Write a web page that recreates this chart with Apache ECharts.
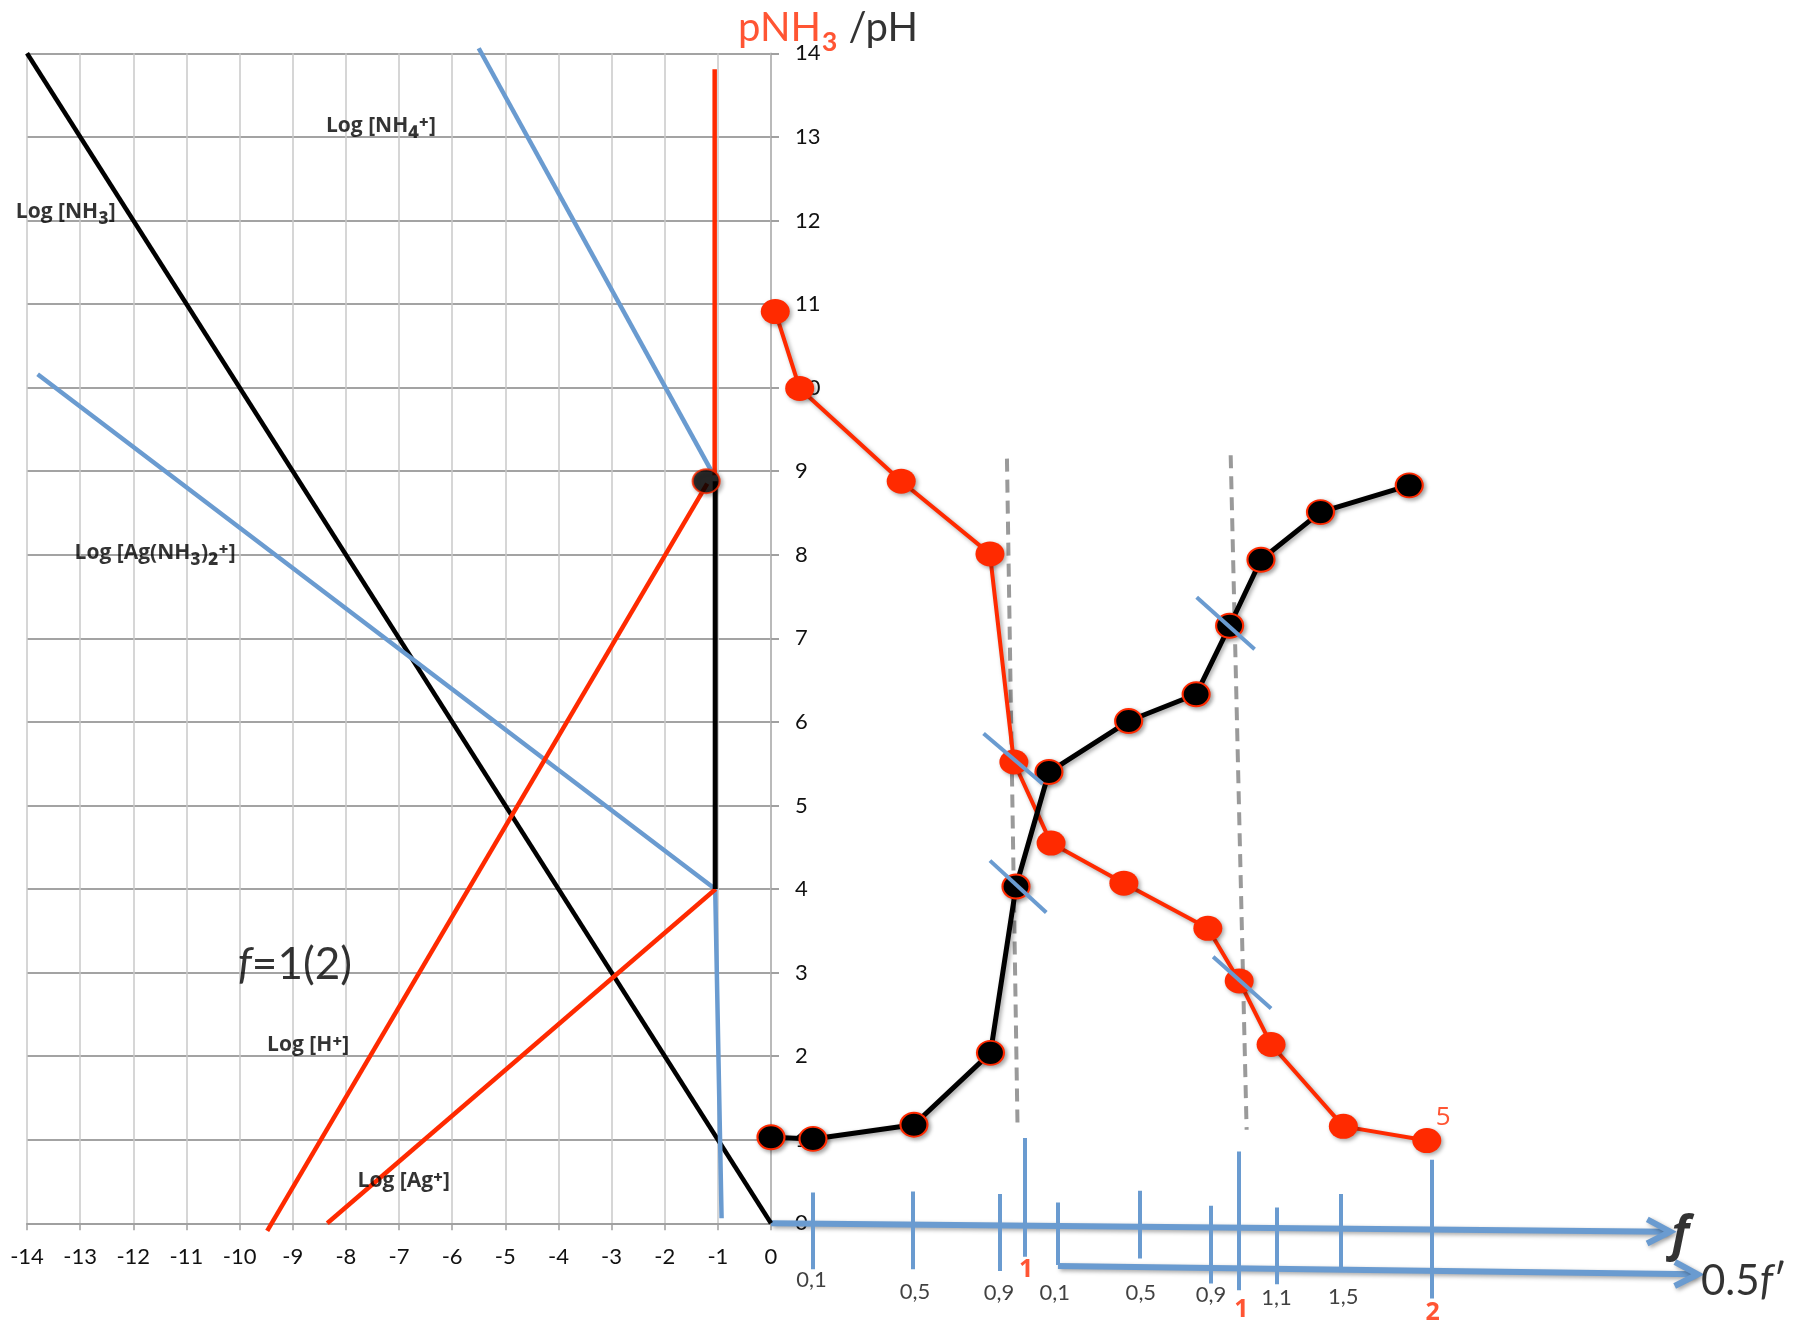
<!DOCTYPE html>
<html><head><meta charset="utf-8">
<script src="https://cdn.jsdelivr.net/npm/echarts@6/dist/echarts.min.js"></script>
<style>html,body{margin:0;padding:0;background:#fff}#c{width:1794px;height:1327px}</style>
</head><body><div id="c"></div>
<script>
// ---------- data ----------
// left: logarithmic diagram (x = log c, y = pH / pNH3)
const logNH3   = [[-14, 14], [0, 0]];
const logNH4   = [[-5.5, 14.06], [-1.12, 9.0]];
const logAgNH3 = [[-13.8, 10.16], [-1.05, 4.0], [-0.93, 0.06]];
const logH     = [[-9.48, -0.09], [-1.2, 8.85]];
const logAg    = [[-8.35, 0], [-1.04, 4.0]];
const redVert  = [[-1.06, 13.81], [-1.06, 8.95]];
const blackVert= [[-1.05, 8.88], [-1.05, 4.0]];
const systemPt = [[-1.22, 8.88]];

// right: titration curves (x = position along the f axis, y = pNH3 / pH)
const posNH3 = [0.08, 0.54, 2.45, 4.12, 4.57, 5.27, 6.64, 8.22, 8.81, 9.41, 10.77, 12.34];
const pNH3   = [10.91, 9.99, 8.88, 8.01, 5.52, 4.55, 4.07, 3.53, 2.90, 2.14, 1.16, 0.99];
const posPH  = [0, 0.79, 2.69, 4.13, 4.61, 5.23, 6.73, 8.00, 8.63, 9.22, 10.34, 12.01];
const pHvals = [1.03, 1.01, 1.18, 2.04, 4.03, 5.40, 6.01, 6.33, 7.15, 7.94, 8.51, 8.83];

// f axes (start x,y -> end x,y)
const axisF      = [0, 0, 16.92, -0.10];
const axisFprime = [5.40, -0.51, 17.44, -0.61];
// tick marks on the f axes: position, top, bottom
const fTickPos = [0.79, 2.67, 4.31, 4.77, 5.40, 6.94, 8.28, 8.81, 9.51, 10.72, 12.43];
const fTickTop = [0.37, 0.38, 0.35, 1.02, 0.25, 0.39, 0.21, 0.86, 0.19, 0.35, 0.76];
const fTickBot = [-0.55, -0.55, -0.57, -0.40, -0.50, -0.42, -0.72, -0.80, -0.73, -0.58, -0.90];
// tick labels
const fLabels    = ['0,1', '0,5', '0,9', '0,1', '0,5', '0,9', '1,1', '1,5'];
const fLabelPos  = [0.76, 2.71, 4.29, 5.34, 6.96, 8.28, 9.51, 10.77];
const fLabelY    = [-0.68, -0.82, -0.83, -0.83, -0.83, -0.86, -0.89, -0.88];
const redLabels  = ['1', '1', '2', '5'];
const redLabelPos= [4.80, 8.85, 12.45, 12.65];
const redLabelY  = [-0.56, -1.03, -1.07, 1.26];
// equivalence dashed lines (x top, y top, x bottom, y bottom)
const eqLines = [[4.44, 9.15, 4.64, 1.12], [8.65, 9.19, 8.95, 1.12]];
// tangent marks at inflection points
const tangents = [[4.00, 5.86, 5.11, 5.26], [4.12, 4.34, 5.18, 3.72],
                  [8.01, 7.49, 9.10, 6.87], [8.32, 3.19, 9.41, 2.57]];

// ---------- style ----------
const RED = '#ff2a00', BLUE = '#6a9bd0', FONT = 'Lato, "Open Sans", sans-serif';
const BOLDFONT = '"Open Sans", "Noto Sans", sans-serif';
const shadow = {shadowColor: 'rgba(0,0,0,0.35)', shadowBlur: 4, shadowOffsetX: 2, shadowOffsetY: 2};

function seg(data, color, width, extra) {
  return Object.assign({type: 'line', xAxisIndex: 0, yAxisIndex: 0, data: data, symbol: 'none',
    clip: false, silent: true, lineStyle: {color: color, width: width}}, extra || {});
}
function textItem(name, x, y, label) {
  return {name: name, value: [x, y], label: label || {}};
}
const subRich = {
  t: {fontSize: 21, fontWeight: 'bold', fontFamily: BOLDFONT, color: '#000'},
  s: {fontSize: 28, fontWeight: 'bold', fontFamily: BOLDFONT, color: '#000'}
};
function logLabel(name, fmt, x, y) {
  return textItem(name, x, y, {formatter: fmt, rich: subRich});
}

const chart = echarts.init(document.getElementById('c'), null, {renderer: 'canvas'});
chart.setOption({
  animation: false,
  backgroundColor: '#fff',
  textStyle: {fontFamily: FONT},
  grid: [
    {left: 27, top: 53.3, width: 744, height: 1170},
    {left: 771, top: 53.3, width: 1023, height: 1270.3}
  ],
  xAxis: [
    {gridIndex: 0, type: 'value', min: -14, max: 0, interval: 1,
     axisLine: {show: true, lineStyle: {color: '#a0a0a0', width: 2}},
     axisTick: {show: true, length: 7, lineStyle: {color: '#a0a0a0', width: 1.5}},
     axisLabel: {margin: 23, fontSize: 22, color: '#111', fontFamily: FONT},
     splitLine: {show: true, lineStyle: {color: '#c8c8c8', width: 1.5}}},
    {gridIndex: 1, type: 'value', min: 0, max: 19.25, show: false}
  ],
  yAxis: [
    {gridIndex: 0, type: 'value', min: 0, max: 14, interval: 1, position: 'right',
     axisLine: {show: true, lineStyle: {color: '#b0b0b0', width: 1.5}},
     axisTick: {show: true, length: 8, lineStyle: {color: '#a0a0a0', width: 2}},
     axisLabel: {margin: 24, fontSize: 22, color: '#111', fontFamily: FONT},
     splitLine: {show: true, lineStyle: {color: '#a3a3a3', width: 2}}},
    {gridIndex: 1, type: 'value', min: -1.2, max: 14, show: false}
  ],
  series: [
    // left log diagram
    seg(logNH3, '#000', 4.5),
    seg(logNH4, BLUE, 4.5),
    seg(logAgNH3, BLUE, 4.5),
    seg(logH, RED, 4.5),
    seg(logAg, RED, 4.5),
    seg(redVert, RED, 4.5),
    seg(blackVert, '#000', 5),
    {type: 'scatter', xAxisIndex: 0, yAxisIndex: 0, data: systemPt, symbol: 'circle', symbolSize: [27, 24],
     itemStyle: Object.assign({color: '#000', borderColor: RED, borderWidth: 2}, shadow), z: 5},
    // f axes
    {type: 'custom', xAxisIndex: 1, yAxisIndex: 1, clip: false, silent: true,
     data: [axisF, axisFprime],
     renderItem: function (params, api) {
       const s = api.coord([api.value(0), api.value(1)]);
       const e = api.coord([api.value(2), api.value(3)]);
       const ang = Math.atan2(e[1] - s[1], e[0] - s[0]);
       const L = 23, W = 12;
       const a = [e[0] - L * Math.cos(ang) + W * Math.sin(ang), e[1] - L * Math.sin(ang) - W * Math.cos(ang)];
       const b = [e[0] - L * Math.cos(ang) - W * Math.sin(ang), e[1] - L * Math.sin(ang) + W * Math.cos(ang)];
       const st = Object.assign({stroke: BLUE, lineWidth: 6, fill: null}, shadow);
       return {type: 'group', children: [
         {type: 'line', shape: {x1: s[0], y1: s[1], x2: e[0] - 3 * Math.cos(ang), y2: e[1] - 3 * Math.sin(ang)}, style: st},
         {type: 'polyline', shape: {points: [a, e, b]}, style: st}
       ]};
     }},
    // f ticks
    {type: 'lines', coordinateSystem: 'cartesian2d', xAxisIndex: 1, yAxisIndex: 1, silent: true,
     lineStyle: {color: BLUE, width: 4, opacity: 1},
     data: fTickPos.map((x, i) => ({coords: [[x, fTickTop[i]], [x, fTickBot[i]]]}))},
    // equivalence dashed lines
    {type: 'lines', coordinateSystem: 'cartesian2d', xAxisIndex: 1, yAxisIndex: 1, silent: true,
     lineStyle: {color: '#9a9a9a', width: 4, type: [13, 8], opacity: 1},
     data: eqLines.map(d => ({coords: [[d[0], d[1]], [d[2], d[3]]]}))},
    // titration curves
    {type: 'line', xAxisIndex: 1, yAxisIndex: 1, clip: false, z: 4,
     data: posNH3.map((x, i) => [x, pNH3[i]]),
     symbol: 'circle', symbolSize: [29, 25], showSymbol: true,
     itemStyle: Object.assign({color: RED}, shadow),
     lineStyle: Object.assign({color: RED, width: 4}, shadow)},
    {type: 'line', xAxisIndex: 1, yAxisIndex: 1, clip: false, z: 5,
     data: posPH.map((x, i) => [x, pHvals[i]]),
     symbol: 'circle', symbolSize: [27, 24], showSymbol: true,
     itemStyle: Object.assign({color: '#000', borderColor: RED, borderWidth: 2}, shadow),
     lineStyle: Object.assign({color: '#000', width: 5}, shadow)},
    // tangent marks
    {type: 'lines', coordinateSystem: 'cartesian2d', xAxisIndex: 1, yAxisIndex: 1, silent: true, z: 6,
     lineStyle: {color: BLUE, width: 4, opacity: 1},
     data: tangents.map(d => ({coords: [[d[0], d[1]], [d[2], d[3]]]}))},
    // f tick labels
    {type: 'scatter', xAxisIndex: 1, yAxisIndex: 1, clip: false, symbolSize: 0, silent: true, z: 7,
     label: {show: true, position: [0, 0], align: 'center', verticalAlign: 'middle',
             formatter: p => p.name, fontSize: 22, color: '#111', fontFamily: FONT},
     data: fLabels.map((t, i) => textItem(t, fLabelPos[i], fLabelY[i]))
       .concat(redLabels.map((t, i) => textItem(t, redLabelPos[i], redLabelY[i],
         {color: RED, fontSize: i === 3 ? 26 : 25, fontWeight: i === 3 ? 'normal' : 'bold', fontFamily: BOLDFONT})))
       .concat([
         textItem('f', 17.11, -0.16, {fontSize: 48, fontWeight: 'bold', fontStyle: 'italic', color: '#000', fontFamily: BOLDFONT}),
         textItem('0.5f′', 17.50, -0.69, {align: 'left', fontSize: 42, color: '#000',
           formatter: '0.5{i|f}′', rich: {i: {fontStyle: 'italic', fontSize: 42, color: '#000'}}})
       ])},
    // annotations on the log diagram
    {type: 'scatter', xAxisIndex: 0, yAxisIndex: 0, clip: false, symbolSize: 0, silent: true, z: 7,
     label: {show: true, position: [0, 0], align: 'center', verticalAlign: 'middle',
             formatter: p => p.name, fontSize: 21, fontWeight: 'bold', color: '#000', fontFamily: BOLDFONT},
     data: [
       logLabel('Log [NH₄⁺]', '{t|Log [NH}{s|₄⁺}{t|]}', -7.34, 13.13),
       logLabel('Log [NH₃]', '{t|Log [NH}{s|₃}{t|]}', -13.27, 12.10),
       logLabel('Log [Ag(NH₃)₂⁺]', '{t|Log [Ag(NH}{s|₃}{t|)}{s|₂⁺}{t|]}', -11.59, 8.02),
       logLabel('Log [H⁺]', '{t|Log [H}{s|⁺}{t|]}', -8.71, 2.13),
       logLabel('Log [Ag⁺]', '{t|Log [Ag}{s|⁺}{t|]}', -6.91, 0.51),
       textItem('f=1(2)', -8.96, 3.09, {fontSize: 44, fontWeight: 'normal', fontFamily: FONT,
         formatter: '{i|f}=1(2)', rich: {i: {fontStyle: 'italic', fontSize: 44}}}),
       textItem('pNH₃ /pH', -0.62, 14.30, {align: 'left', fontSize: 40, fontWeight: 'normal', fontFamily: FONT,
         formatter: '{r|pNH}{s|₃} {k|/pH}',
         rich: {r: {color: RED, fontSize: 40}, s: {color: RED, fontSize: 52}, k: {color: '#000', fontSize: 40}}})
     ]}
  ]
});
</script></body></html>
